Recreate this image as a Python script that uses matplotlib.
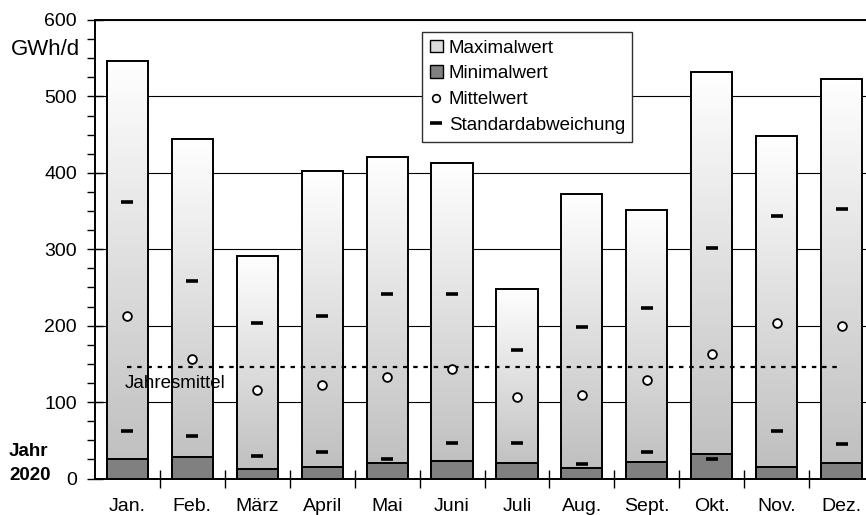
import numpy as np
import matplotlib
matplotlib.use('Agg')
import matplotlib.pyplot as plt
from matplotlib.colors import LinearSegmentedColormap
from matplotlib.lines import Line2D
from matplotlib.patches import Patch

plt.rcParams['font.family'] = ['Liberation Sans', 'DejaVu Sans']

months = ['Jan.', 'Feb.', 'März', 'April', 'Mai', 'Juni', 'Juli', 'Aug.',
          'Sept.', 'Okt.', 'Nov.', 'Dez.']
maximalwert = [546, 444, 291, 403, 421, 413, 248, 372, 352, 532, 448, 523]
minimalwert = [25, 28, 12, 15, 20, 23, 20, 14, 22, 32, 15, 20]
mittelwert = [212, 157, 116, 123, 133, 143, 107, 109, 129, 163, 203, 199]
std_oben = [362, 259, 204, 212, 241, 241, 168, 198, 223, 301, 344, 353]
std_unten = [62, 56, 29, 35, 25, 46, 46, 19, 35, 25, 62, 45]
jahresmittel = 146
legend_labels = ['Maximalwert', 'Minimalwert', 'Mittelwert', 'Standardabweichung']

W, H = 866, 515
fig = plt.figure(figsize=(W / 100, H / 100), dpi=100)
ax = fig.add_axes([95 / W, (H - 478.5) / H, 779 / W, 458.5 / H])

x = np.arange(len(months))
bw = 0.635

cmap = LinearSegmentedColormap.from_list('g', ['#bdbdbd', '#ffffff'])
grad = np.linspace(1, 0, 256).reshape(-1, 1)

bars = ax.bar(x, maximalwert, width=bw, facecolor='none', edgecolor='black',
              linewidth=1.4, zorder=3)
for b in bars:
    x0, y0, w, h = b.get_x(), b.get_y(), b.get_width(), b.get_height()
    ax.imshow(grad, extent=[x0, x0 + w, y0, y0 + h], origin='upper', cmap=cmap,
              vmin=0, vmax=1, aspect='auto', zorder=2, interpolation='bilinear')

ax.bar(x, minimalwert, width=bw, color='#808080', edgecolor='black',
       linewidth=1.4, zorder=4)

ax.plot(x, std_oben, marker='_', ms=8, mew=2.6, color='black', ls='none', zorder=6)
ax.plot(x, std_unten, marker='_', ms=8, mew=2.6, color='black', ls='none', zorder=6)
ax.plot(x, mittelwert, marker='o', ms=6.3, mfc='white', mec='black', mew=1.3,
        ls='none', zorder=6)

ax.plot([x[0], x[-1]], [jahresmittel, jahresmittel], color='black', lw=1.6,
        ls=(0, (2, 2.6)), zorder=5)
ax.text(-0.05, 124, 'Jahresmittel', fontsize=13.5, ha='left', va='center', zorder=7)

ax.set_xlim(-0.5, len(months) - 0.5)
ax.set_ylim(0, 600)
ax.set_yticks(np.arange(0, 601, 100))
ax.set_yticks(np.arange(0, 601, 25), minor=True)
ax.yaxis.grid(True, which='major', color='black', lw=0.8)
ax.set_axisbelow(True)

ax.set_xticks(np.arange(0.5, len(months) - 0.5, 1))
ax.set_xticklabels([])
ax.set_xticks(x, minor=True)
ax.set_xticklabels(months, minor=True, fontsize=14)

ax.tick_params(axis='y', which='major', direction='inout', length=12, width=1,
               labelsize=14, pad=7)
ax.tick_params(axis='y', which='minor', direction='out', length=6, width=1)
ax.tick_params(axis='x', which='major', direction='inout', length=13, width=1)
ax.tick_params(axis='x', which='minor', length=0, pad=14)

for s in ax.spines.values():
    s.set_color('black')
    s.set_linewidth(1.4)

handles = [Patch(facecolor='#dcdcdc', edgecolor='black', lw=1),
           Patch(facecolor='#808080', edgecolor='black', lw=1),
           Line2D([], [], marker='o', ls='none', mfc='white', mec='black', ms=5.5, mew=1.2),
           Line2D([], [], marker='_', ls='none', color='black', ms=8, mew=2.6)]
leg = ax.legend(handles, legend_labels, loc='upper left',
                bbox_to_anchor=(0.4198, 0.9738), borderaxespad=0, fontsize=13.5,
                frameon=True, fancybox=False, edgecolor='#303030', framealpha=1,
                handlelength=0.72, handleheight=0.68, handletextpad=0.3,
                labelspacing=0.47, borderpad=0.4)
leg.get_frame().set_linewidth(1.0)
leg.set_zorder(10)

fig.text(80 / W, 1 - 49.5 / H, 'GWh/d', fontsize=16, ha='right', va='center')
fig.text(9 / W, 1 - 451 / H, 'Jahr', fontsize=13.5, fontweight='bold', ha='left', va='center')
fig.text(9 / W, 1 - 475 / H, '2020', fontsize=13.5, fontweight='bold', ha='left', va='center')

fig.savefig('out.png', dpi=100)
